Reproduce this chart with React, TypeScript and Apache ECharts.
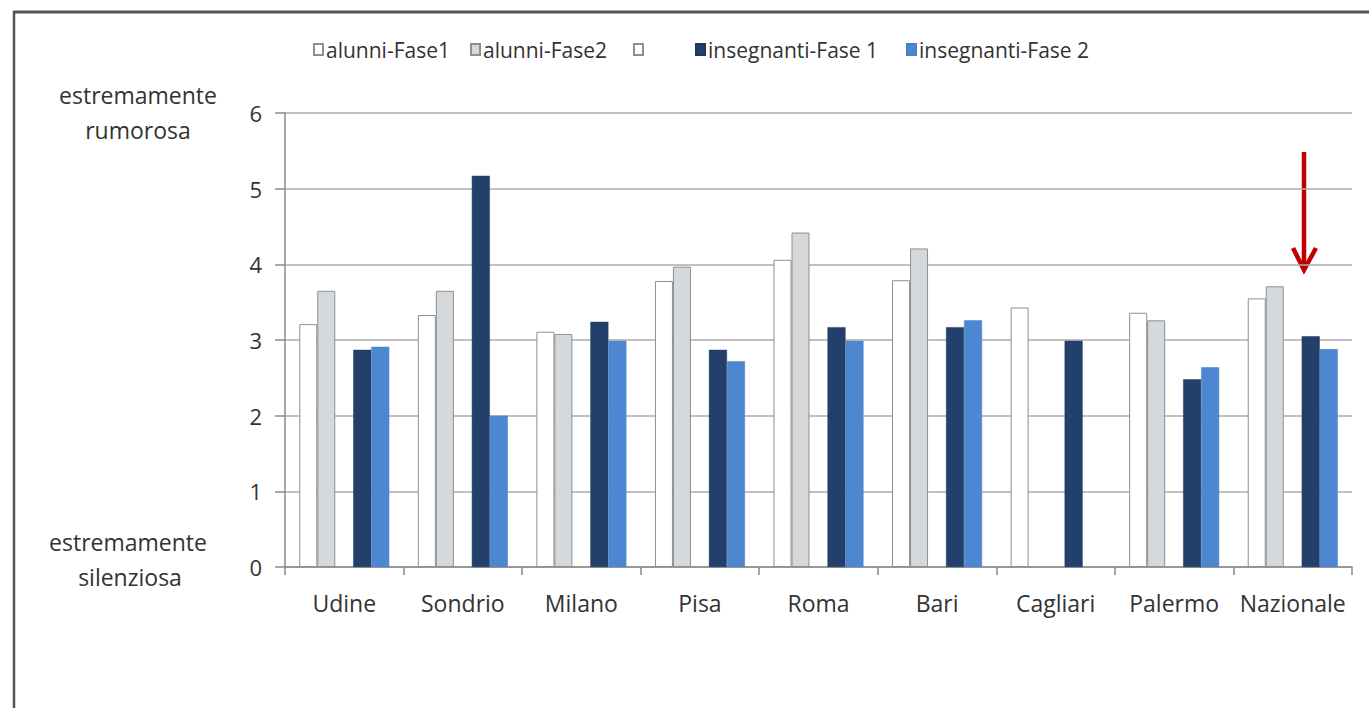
import React, { useEffect, useRef } from "react";
import * as echarts from "echarts";

// Città del campione e valore nazionale
const categories = ["Udine", "Sondrio", "Milano", "Pisa", "Roma", "Bari", "Cagliari", "Palermo", "Nazionale"];

// Giudizio medio sulla rumorosità della classe (0 = estremamente silenziosa, 6 = estremamente rumorosa)
const alunniFase1 = [3.21, 3.33, 3.11, 3.78, 4.06, 3.79, 3.43, 3.36, 3.55];
const alunniFase2 = [3.65, 3.65, 3.08, 3.97, 4.42, 4.21, null, 3.26, 3.71];
const spacer = [null, null, null, null, null, null, null, null, null];
const insegnantiFase1 = [2.87, 5.17, 3.24, 2.87, 3.17, 3.17, 2.99, 2.48, 3.05];
const insegnantiFase2 = [2.91, 2.0, 2.99, 2.72, 2.99, 3.26, null, 2.64, 2.88];

const seriesNames = ["alunni-Fase1", "alunni-Fase2", " ", "insegnanti-Fase 1", "insegnanti-Fase 2"];
const yTicks = [0, 1, 2, 3, 4, 5, 6];

const FONT = "Open Sans";
const TEXT = "#333333";
const OUTLINE = "#8f8f8f";

export default function App() {
  const ref = useRef<HTMLDivElement>(null);

  useEffect(() => {
    if (!ref.current) return;
    const chart = echarts.init(ref.current, null, { renderer: "svg" });

    const styles = [
      { color: "#ffffff", borderColor: OUTLINE, borderWidth: 1 },
      { color: "#d6d9dc", borderColor: OUTLINE, borderWidth: 1 },
      { color: "#ffffff", borderColor: OUTLINE, borderWidth: 1 },
      { color: "#22406a", borderColor: "#1d3859", borderWidth: 0.5 },
      { color: "#4d87d2", borderColor: "#4a80c4", borderWidth: 0.5 },
    ];
    const values = [alunniFase1, alunniFase2, spacer, insegnantiFase1, insegnantiFase2];
    const legendLeft = [313, 470, 633, 695, 906];

    const option: echarts.EChartsOption = {
      animation: false,
      backgroundColor: "#ffffff",
      textStyle: { fontFamily: FONT },
      legend: seriesNames.map((name, i) => ({
        data: [name],
        left: legendLeft[i],
        top: 39,
        padding: 0,
        icon: "rect",
        itemWidth: 9,
        itemHeight: 11,
        itemGap: 4,
        selectedMode: false,
        textStyle: { fontFamily: FONT, fontSize: 21, color: TEXT, padding: [0, 0, 0, -2] },
      })),
      grid: { left: 285, right: 17, top: 113, bottom: 141, containLabel: false },
      xAxis: {
        type: "category",
        data: categories,
        axisLine: { show: true, lineStyle: { color: "#8a8a8a", width: 1.5 } },
        axisTick: { show: true, length: 8, lineStyle: { color: "#8a8a8a", width: 1.5 } },
        axisLabel: { fontFamily: FONT, fontSize: 23, color: TEXT, margin: 24, interval: 0 },
      },
      yAxis: {
        type: "value",
        min: yTicks[0],
        max: yTicks[yTicks.length - 1],
        interval: 1,
        axisLine: { show: true, lineStyle: { color: "#8a8a8a", width: 1.5 } },
        axisTick: { show: true, length: 10, lineStyle: { color: "#8a8a8a", width: 1.5 } },
        axisLabel: { fontFamily: FONT, fontSize: 22, color: TEXT, margin: 23 },
        splitLine: { show: true, lineStyle: { color: "#acacac", width: 1.5 } },
      },
      series: seriesNames.map((name, i) => ({
        name,
        type: "bar",
        data: values[i],
        barWidth: 18,
        barGap: "0%",
        itemStyle: styles[i],
      })),
      graphic: [
        // cornice superiore e sinistra
        { type: "line", shape: { x1: 13, y1: 12, x2: 1369, y2: 12 }, style: { stroke: "#555555", lineWidth: 3 } },
        { type: "line", shape: { x1: 14, y1: 11, x2: 14, y2: 708 }, style: { stroke: "#555555", lineWidth: 2.5 } },
        // etichette degli estremi della scala
        { type: "text", x: 138, y: 95, style: { text: "estremamente", fontFamily: FONT, fontSize: 23, fill: TEXT, align: "center", verticalAlign: "middle" } },
        { type: "text", x: 138, y: 130, style: { text: "rumorosa", fontFamily: FONT, fontSize: 23, fill: TEXT, align: "center", verticalAlign: "middle" } },
        { type: "text", x: 128, y: 542, style: { text: "estremamente", fontFamily: FONT, fontSize: 23, fill: TEXT, align: "center", verticalAlign: "middle" } },
        { type: "text", x: 130, y: 577, style: { text: "silenziosa", fontFamily: FONT, fontSize: 23, fill: TEXT, align: "center", verticalAlign: "middle" } },
        // freccia sul dato nazionale
        { type: "line", shape: { x1: 1304, y1: 152, x2: 1304, y2: 268 }, style: { stroke: "#c00000", lineWidth: 4.5 } },
        { type: "polyline", shape: { points: [[1293, 248], [1304, 270], [1316, 248]] }, style: { stroke: "#c00000", lineWidth: 4.5, fill: "none" } },
      ],
    };

    chart.setOption(option);
    return () => chart.dispose();
  }, []);

  return <div ref={ref} style={{ position: "absolute", left: 0, top: 0, width: 1369, height: 708 }} />;
}
